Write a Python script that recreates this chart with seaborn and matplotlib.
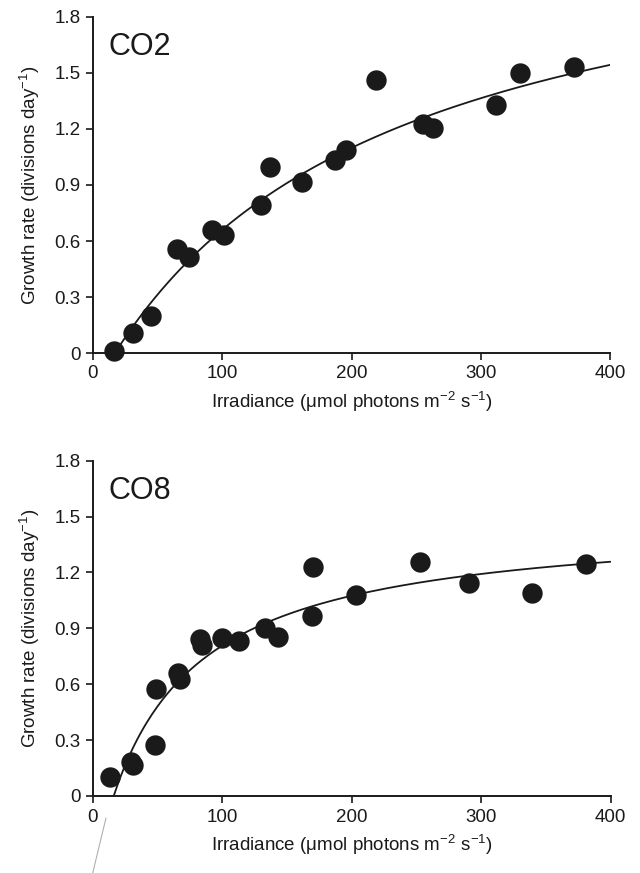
import numpy as np
import pandas as pd
import matplotlib
matplotlib.use("Agg")
import matplotlib.pyplot as plt
import seaborn as sns
from matplotlib.lines import Line2D

# ---- data ----
co2_irr = [16, 31, 45, 65, 74, 92, 101, 130, 137, 162, 187, 196, 219, 255, 263, 312, 330, 372]
co2_mu = [0.01, 0.105, 0.20, 0.555, 0.515, 0.66, 0.632, 0.795, 0.995, 0.918, 1.034, 1.09, 1.465, 1.227, 1.205, 1.327, 1.50, 1.532]

co8_irr = [13, 29, 31, 48, 49, 66, 67, 83, 84, 100, 113, 133, 143, 169, 170, 203, 253, 291, 339, 381]
co8_mu = [0.104, 0.18, 0.165, 0.274, 0.573, 0.66, 0.63, 0.843, 0.81, 0.846, 0.834, 0.903, 0.855, 0.966, 1.231, 1.079, 1.258, 1.142, 1.091, 1.245]

# fitted curve parameters (hyperbolic light-response: Pmax, half-saturation K, compensation I0)
co2_fit = dict(pmax=2.45, k=225.0, i0=17.0)
co8_fit = dict(pmax=1.49, k=71.0, i0=16.0)

panel_labels = ["CO2", "CO8"]
x_ticks = [0, 100, 200, 300, 400]
y_ticks = [0, 0.3, 0.6, 0.9, 1.2, 1.5, 1.8]
y_ticklabels = ["0", "0.3", "0.6", "0.9", "1.2", "1.5", "1.8"]

sns.set_theme(style="ticks")
plt.rcParams["font.family"] = ["Liberation Sans", "DejaVu Sans"]
plt.rcParams["mathtext.fontset"] = "custom"
plt.rcParams["mathtext.rm"] = "Liberation Sans"
plt.rcParams["mathtext.it"] = "Liberation Sans:italic"
plt.rcParams["mathtext.default"] = "regular"

fig = plt.figure(figsize=(6.4, 8.73), dpi=100)
W, H = 640, 873
def ax_rect(l, r, t, b):
    return [l / W, 1 - b / H, (r - l) / W, (b - t) / H]

ax1 = fig.add_axes(ax_rect(93, 610, 17, 353))
ax2 = fig.add_axes(ax_rect(93, 610.5, 460.7, 796))

ink = "#1a1a1a"
for ax, irr, mu, fit, lab in [(ax1, co2_irr, co2_mu, co2_fit, panel_labels[0]),
                              (ax2, co8_irr, co8_mu, co8_fit, panel_labels[1])]:
    xs = np.linspace(fit["i0"], 400, 300)
    ys = fit["pmax"] * (xs - fit["i0"]) / (fit["k"] + xs - fit["i0"])
    sns.lineplot(x=xs, y=ys, ax=ax, color=ink, lw=1.3, zorder=2)
    df = pd.DataFrame({"irr": irr, "mu": mu})
    sns.scatterplot(data=df, x="irr", y="mu", ax=ax, s=215, color=ink,
                    edgecolor=ink, linewidth=0, zorder=3, clip_on=False)
    ax.set_xlim(0, 400)
    ax.set_ylim(0, 1.8)
    ax.set_xticks(x_ticks)
    ax.set_yticks(y_ticks)
    ax.set_yticklabels(y_ticklabels)
    sns.despine(ax=ax)
    for sp in ["left", "bottom"]:
        ax.spines[sp].set_linewidth(1.4)
        ax.spines[sp].set_color(ink)
    ax.tick_params(axis="both", direction="out", length=5, width=1.2,
                   labelsize=13.5, colors=ink, pad=4)
    ax.set_xlabel("Irradiance (\u03bcmol photons m$^{-2}$ s$^{-1}$)", fontsize=13.5,
                  color=ink, labelpad=5)
    ax.set_ylabel("Growth rate (divisions day$^{-1}$)", fontsize=13.5, color=ink,
                  labelpad=9)
    ax.text(0.03, 0.955, lab, transform=ax.transAxes, fontsize=22, color=ink,
            ha="left", va="top")

# faint scan artefact line at bottom left
fig.add_artist(Line2D([106 / W, 92.7 / W], [1 - 818 / H, 1 - 873 / H],
                      color="#b0b0b0", lw=0.8))

fig.savefig("out.png", dpi=100)
